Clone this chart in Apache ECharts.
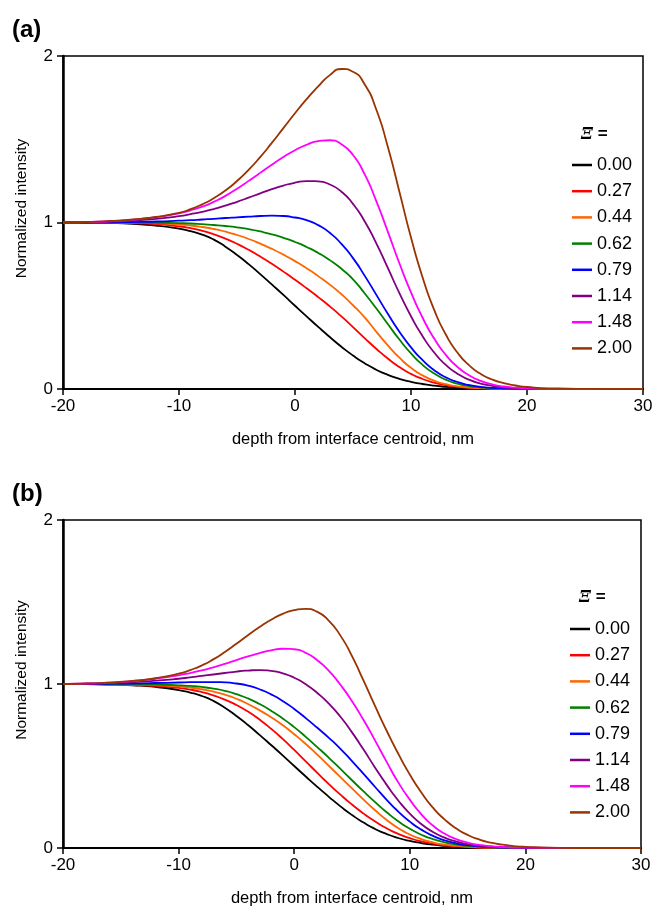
<!DOCTYPE html>
<html>
<head>
<meta charset="utf-8">
<script src="https://cdn.jsdelivr.net/npm/echarts@6/dist/echarts.min.js"></script>
<style>
html,body{margin:0;padding:0;background:#fff;}
#chart{width:656px;height:908px;}
</style>
</head>
<body>
<div id="chart"></div>
<script>
// depth from interface centroid, nm
const depth = [-20,-18,-16,-14,-12,-10,-9,-8,-7,-6,-5,-4,-3,-2,-1,0,1,2,3,4,5,6,7,8,9,10,11,12,13,14,15,16,17,18,19,20,22,25,30];
const xiLabels = ['0.00','0.27','0.44','0.62','0.79','1.14','1.48','2.00'];
const xTicks = [-20,-10,0,10,20,30];
const yTicks = [0,1,2];

// Panel (a)
const a000 = [1.000,0.999,0.997,0.992,0.982, 0.963,0.948,0.927,0.897,0.855,0.805,0.750,0.690,0.628,0.565, 0.500,0.436,0.373,0.312,0.254,0.201,0.155,0.116,0.085,0.061,0.043, 0.030,0.020,0.013,0.008,0.005,0.003,0.002,0.001,0.001,0.000, 0,0,0];
const a027 = [1.000,1.000,0.999,0.996,0.990, 0.977,0.966,0.950,0.929,0.903,0.872,0.836,0.796,0.752,0.705, 0.656,0.605,0.552,0.496,0.436,0.372,0.306,0.242,0.183,0.132,0.091, 0.060,0.038,0.023,0.013,0.007,0.004,0.002,0.001,0.000,0.000, 0,0,0];
const a044 = [1.000,1.000,0.999,0.998,0.995, 0.988,0.982,0.973,0.961,0.945,0.925,0.901,0.873,0.842,0.807, 0.768,0.725,0.678,0.627,0.569,0.503,0.430,0.345,0.262,0.188,0.127, 0.082,0.050,0.029,0.016,0.009,0.005,0.003,0.001,0.001,0.000, 0,0,0];
const a062 = [1.000,1.000,1.000,0.999,0.998, 0.996,0.994,0.990,0.985,0.979,0.971,0.960,0.946,0.929,0.908, 0.883,0.853,0.817,0.774,0.722,0.659,0.575,0.485,0.390,0.297,0.214, 0.145,0.093,0.056,0.032,0.018,0.010,0.005,0.003,0.001,0.000, 0,0,0];
const a079 = [1.000,1.000,1.001,1.003,1.006, 1.011,1.014,1.018,1.022,1.027,1.031,1.035,1.039,1.041,1.039, 1.030,1.014,0.984,0.938,0.872,0.786,0.681,0.567,0.452,0.344,0.250, 0.173,0.113,0.070,0.042,0.024,0.013,0.007,0.004,0.002,0.001, 0,0,0];
const a114 = [1.000,1.002,1.005,1.011,1.022, 1.038,1.050,1.064,1.081,1.101,1.124,1.149,1.175,1.200,1.222, 1.239,1.249,1.247,1.228,1.185,1.112,1.008,0.876,0.727,0.576,0.437, 0.317,0.219,0.145,0.092,0.056,0.033,0.019,0.010,0.005,0.003, 0.001,0,0];
const a148 = [1.000,1.002,1.007,1.016,1.032, 1.055,1.073,1.095,1.124,1.160,1.203,1.250,1.298,1.347,1.393, 1.434,1.467,1.489,1.494,1.470,1.405,1.290,1.130,0.945,0.755,0.580, 0.428,0.303,0.205,0.133,0.083,0.049,0.028,0.015,0.008,0.004, 0.001,0,0];
const a200 = [1.000,1.003,1.009,1.018,1.033, 1.058,1.080,1.109,1.146,1.192,1.249,1.316,1.393,1.478,1.567, 1.656,1.741,1.817,1.885,1.922,1.905,1.830,1.680,1.455,1.185,0.910, 0.670,0.475,0.327,0.219,0.143,0.091,0.057,0.035,0.021,0.012, 0.004,0.001,0];

// Panel (b)
const b000 = [1.000,0.999,0.997,0.992,0.982, 0.963,0.948,0.927,0.897,0.855,0.805,0.750,0.690,0.628,0.565, 0.500,0.436,0.373,0.312,0.254,0.201,0.155,0.116,0.085,0.061,0.043, 0.030,0.020,0.013,0.008,0.005,0.003,0.002,0.001,0.001,0.000, 0,0,0];
const b027 = [1.000,1.000,0.998,0.994,0.988, 0.976,0.966,0.951,0.931,0.905,0.872,0.832,0.783,0.727,0.665, 0.598,0.528,0.458,0.390,0.325,0.265,0.210,0.162,0.120,0.086,0.060, 0.040,0.026,0.016,0.010,0.006,0.003,0.002,0.001,0.000,0.000, 0,0,0];
const b044 = [1.000,1.000,0.999,0.997,0.993, 0.985,0.978,0.968,0.954,0.935,0.910,0.878,0.840,0.797,0.749, 0.694,0.634,0.569,0.501,0.432,0.363,0.295,0.230,0.171,0.121,0.082, 0.054,0.034,0.021,0.013,0.008,0.004,0.002,0.001,0.001,0.000, 0,0,0];
const b062 = [1.000,1.000,1.000,0.999,0.997, 0.992,0.988,0.982,0.972,0.958,0.938,0.912,0.878,0.837,0.790, 0.737,0.678,0.615,0.550,0.482,0.413,0.345,0.280,0.218,0.163,0.117, 0.081,0.054,0.035,0.022,0.013,0.008,0.004,0.002,0.001,0.000, 0,0,0];
const b079 = [1.000,1.000,1.001,1.003,1.006, 1.009,1.011,1.012,1.012,1.010,1.003,0.990,0.968,0.937,0.897, 0.848,0.792,0.733,0.672,0.605,0.530,0.452,0.372,0.294,0.222,0.161, 0.112,0.074,0.047,0.029,0.017,0.010,0.006,0.003,0.002,0.001, 0,0,0];
const b114 = [1.000,1.002,1.005,1.011,1.020, 1.032,1.040,1.049,1.058,1.067,1.076,1.082,1.085,1.080,1.065, 1.038,0.998,0.945,0.880,0.800,0.705,0.600,0.490,0.385,0.290,0.210, 0.146,0.098,0.063,0.040,0.024,0.014,0.008,0.005,0.003,0.002, 0,0,0];
const b148 = [1.000,1.003,1.008,1.017,1.032, 1.053,1.067,1.083,1.102,1.123,1.146,1.168,1.188,1.205,1.215, 1.212,1.190,1.145,1.080,0.995,0.895,0.780,0.655,0.525,0.400,0.295, 0.205,0.137,0.088,0.055,0.033,0.019,0.011,0.006,0.003,0.002, 0.001,0,0];
const b200 = [1.000,1.003,1.009,1.019,1.035, 1.063,1.085,1.113,1.150,1.195,1.245,1.297,1.347,1.392,1.428, 1.450,1.458,1.440,1.385,1.295,1.170,1.020,0.865,0.715,0.575,0.448, 0.338,0.246,0.175,0.120,0.080,0.052,0.033,0.020,0.012,0.007, 0.002,0,0];

const panelA = [a000,a027,a044,a062,a079,a114,a148,a200];
const panelB = [b000,b027,b044,b062,b079,b114,b148,b200];
const colors = ['#000000','#ff0000','#ff6600','#008000','#0000ff','#800080','#ff00ff','#993300'];

const FONT = 'Liberation Sans, Arial, sans-serif';

function makeSeries(arrs, idx) {
  return arrs.map((arr, k) => ({
    type: 'line',
    name: xiLabels[k],
    xAxisIndex: idx,
    yAxisIndex: idx,
    data: depth.map((x, i) => [x, arr[i]]),
    showSymbol: false,
    symbol: 'none',
    smooth: 0.6,
    lineStyle: { color: colors[k], width: 1.8 },
    itemStyle: { color: colors[k] },
    z: 3 + k,
    animation: false
  }));
}

function xAxisDef(gridIndex) {
  return {
    type: 'value', gridIndex, min: -20, max: 30, interval: 10,
    axisLine: { show: true, onZero: false, lineStyle: { color: '#000', width: 2 } },
    axisTick: { show: true, inside: false, length: 6, lineStyle: { color: '#000', width: 1.5 } },
    axisLabel: { color: '#000', fontSize: 17, fontFamily: FONT, margin: 9 },
    splitLine: { show: false },
    name: 'depth from interface centroid, nm',
    nameLocation: 'middle', nameGap: 42,
    nameTextStyle: { color: '#000', fontSize: 16.5, fontFamily: FONT }
  };
}
function yAxisDef(gridIndex) {
  return {
    type: 'value', gridIndex, min: 0, max: 2, interval: 1,
    axisLine: { show: true, onZero: false, lineStyle: { color: '#000', width: 2.5 } },
    axisTick: { show: true, inside: false, length: 6, lineStyle: { color: '#000', width: 1.5 } },
    axisLabel: { color: '#000', fontSize: 17, fontFamily: FONT, margin: 10 },
    splitLine: { show: false },
    name: 'Normalized intensity',
    nameLocation: 'middle', nameGap: 33,
    nameTextStyle: { color: '#000', fontSize: 15.5, fontFamily: FONT, padding: [0, 0, 0, 28] }
  };
}

const chart = echarts.init(document.getElementById('chart'), null, { renderer: 'canvas', width: 656, height: 908 });
chart.setOption({
  animation: false,
  backgroundColor: '#ffffff',
  title: [
    { text: '(a)', left: 7, top: 13, textStyle: { fontSize: 24, fontWeight: 'bold', fontFamily: FONT, color: '#000' } },
    { text: '(b)', left: 7, top: 477, textStyle: { fontSize: 24, fontWeight: 'bold', fontFamily: FONT, color: '#000' } },
    { text: '{i|Ξ} =', left: 576, top: 121, textStyle: { fontSize: 17, fontFamily: FONT, color: '#000', rich: { i: { fontStyle: 'italic', fontSize: 17, fontFamily: 'DejaVu Serif, serif', color: '#000' } } } },
    { text: '{i|Ξ} =', left: 574, top: 584, textStyle: { fontSize: 17, fontFamily: FONT, color: '#000', rich: { i: { fontStyle: 'italic', fontSize: 17, fontFamily: 'DejaVu Serif, serif', color: '#000' } } } }
  ],
  grid: [
    { left: 63, top: 56, width: 580, height: 333, show: true, borderColor: '#000', borderWidth: 1.5, containLabel: false },
    { left: 63, top: 520, width: 578, height: 331, show: true, borderColor: '#000', borderWidth: 1.5, containLabel: false }
  ],
  legend: [
    { data: xiLabels, orient: 'vertical', left: 567, top: 150, icon: 'rect', itemWidth: 20, itemHeight: 2.5, itemGap: 6.2, itemTextGap: 5,
      textStyle: { fontSize: 18, lineHeight: 20, fontFamily: FONT, color: '#000' }, selectedMode: false },
    { data: xiLabels, orient: 'vertical', left: 565, top: 614, icon: 'rect', itemWidth: 20, itemHeight: 2.5, itemGap: 6.2, itemTextGap: 5,
      textStyle: { fontSize: 18, lineHeight: 20, fontFamily: FONT, color: '#000' }, selectedMode: false }
  ],
  xAxis: [xAxisDef(0), xAxisDef(1)],
  yAxis: [yAxisDef(0), yAxisDef(1)],
  series: makeSeries(panelA, 0).concat(makeSeries(panelB, 1))
});
</script>
</body>
</html>
